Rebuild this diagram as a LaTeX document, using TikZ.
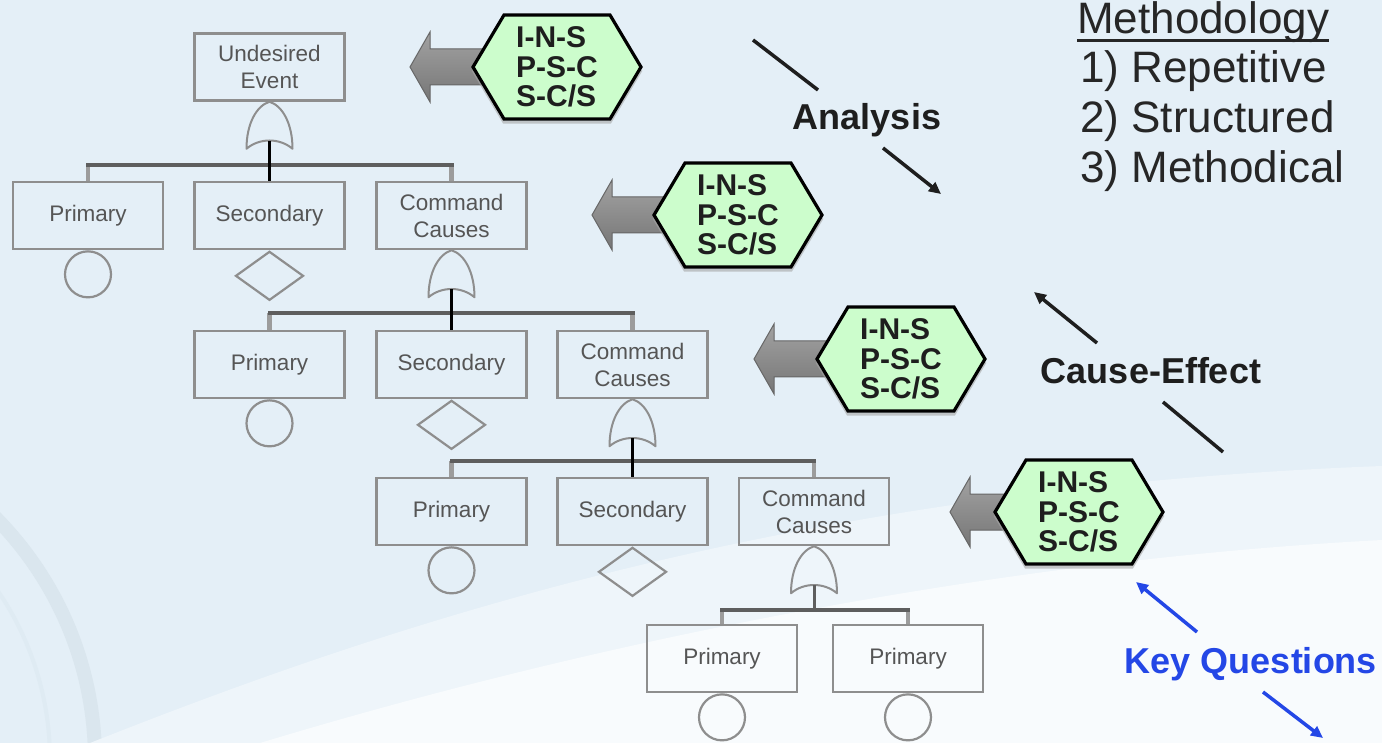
\documentclass[tikz,border=0pt]{standalone}
\usepackage{fontspec}
\setmainfont{Liberation Sans}
\usetikzlibrary{arrows.meta,calc,shapes.geometric}

\definecolor{bgblue}{HTML}{E4EFF7}
\definecolor{bandA}{HTML}{EEF5FA}
\definecolor{bandB}{HTML}{F8FBFD}
\definecolor{gearblue}{HTML}{DAE6EE}
\definecolor{boxgray}{HTML}{8E8E8E}
\definecolor{labelgray}{HTML}{555555}
\definecolor{busgray}{HTML}{5E5E5E}
\definecolor{dropgray}{HTML}{9C9C9C}
\definecolor{hexgreen}{HTML}{CCFDCC}
\definecolor{arrowtop}{HTML}{A2A2A2}
\definecolor{arrowbot}{HTML}{767676}
\definecolor{arrowedge}{HTML}{666666}
\definecolor{keyblue}{HTML}{2447E6}
\definecolor{inktext}{HTML}{1E1E1E}
\definecolor{methink}{HTML}{262626}

% fault-tree OR gate hanging from the given point
\newcommand\orgate[1]{%
  \draw[gateline, shift={(#1)}] (-23,47) .. controls (-23,22) and (-13,4) .. (0,0)
    .. controls (13,4) and (23,22) .. (23,47)
    .. controls (10,36) and (-10,36) .. cycle;}

\begin{document}
\begin{tikzpicture}[x=1pt,y=-1pt,
  evbox/.style={draw=boxgray, line width=2.5pt, minimum width=150pt, minimum height=67pt,
    inner sep=0pt, align=center, text=labelgray, font=\fontsize{22.5}{27}\selectfont},
  gateline/.style={draw=boxgray, line width=2pt, line join=round},
  basic/.style={circle, draw=boxgray, line width=2.2pt, minimum size=46pt, inner sep=0pt, anchor=north},
  undev/.style={diamond, draw=boxgray, line width=2.2pt, minimum width=68pt, minimum height=49pt,
    inner sep=0pt, anchor=north},
  bus/.style={draw=busgray, line width=4pt, line cap=rect},
  drop/.style={draw=dropgray, line width=4.5pt},
  stem/.style={draw=black, line width=3pt},
  hexshape/.style={draw=black, line width=3.2pt, fill=hexgreen, line join=miter},
  hexshadow/.style={draw=black!35, line width=3.2pt, opacity=0.6},
  hextext/.style={align=left, inner sep=0pt, text=inktext, font=\bfseries\fontsize{30}{29.5}\selectfont},
  blockarrow/.style={draw=arrowedge, line width=1pt, top color=arrowtop, bottom color=arrowbot},
  tag/.style={inner sep=0pt, anchor=base, font=\bfseries\fontsize{36}{40}\selectfont},
  methline/.style={inner sep=0pt, anchor=base west, text=methink, font=\fontsize{44}{50}\selectfont},
  conn/.style={line width=3.5pt, draw=inktext},
  tipped/.style={-{Triangle[length=12pt,width=11pt]}}
]
\useasboundingbox (0,0) rectangle (1382,743);

% ---------- background: pale blue field, faint gear, white sweep ----------
\begin{scope}
  \clip (0,0) rectangle (1382,743);
  \fill[bgblue] (0,0) rectangle (1382,743);
  \begin{scope}[shift={(-250,760)}]
    \draw[gearblue, line width=14pt] (0,0) circle (345);
    \draw[gearblue!50!bgblue, line width=4pt] (0,0) circle (300);
    \foreach \a in {4,20,...,84}{
      \fill[gearblue!70!bgblue] (\a-3.2:352) -- (\a-2.4:390) -- (\a+2.4:390) -- (\a+3.2:352) -- cycle;
    }
  \end{scope}
  \fill[bandA] (90,743) .. controls (400,620) and (800,488) .. (1382,466) -- (1382,743) -- cycle;
  \fill[bandB] (260,743) .. controls (600,640) and (1000,560) .. (1382,540) -- (1382,743) -- cycle;
\end{scope}

% ---------- event boxes ----------
\node[evbox] (top) at (269.5,67) {Undesired\\Event};

\node[evbox] (p1) at (88,215.5)    {Primary};
\node[evbox] (s1) at (269.5,215.5) {Secondary};
\node[evbox] (c1) at (451.5,215.5) {Command\\Causes};

\node[evbox] (p2) at (269.5,364.5) {Primary};
\node[evbox] (s2) at (451.5,364.5) {Secondary};
\node[evbox] (c2) at (632.5,364.5) {Command\\Causes};

\node[evbox] (p3) at (451.5,511.5) {Primary};
\node[evbox] (s3) at (632.5,511.5) {Secondary};
\node[evbox] (c3) at (814,511.5)   {Command\\Causes};

\node[evbox] (p4) at (722,658.5) {Primary};
\node[evbox] (q4) at (908,658.5) {Primary};

% ---------- basic (circle) and undeveloped (diamond) event symbols ----------
\node[basic] (bp1) at (p1.south) {};
\node[undev] (ds1) at (s1.south) {};
\node[basic] (bp2) at (p2.south) {};
\node[undev] (ds2) at (s2.south) {};
\node[basic] (bp3) at (p3.south) {};
\node[undev] (ds3) at (s3.south) {};
\node[basic] (bp4) at (p4.south) {};
\node[basic] (bq4) at (q4.south) {};

% ---------- OR gates ----------
\orgate{top.south}
\orgate{c1.south}
\orgate{c2.south}
\orgate{c3.south}
\coordinate (g0) at ($(top.south)+(0,39)$);
\coordinate (g1) at ($(c1.south)+(0,39)$);
\coordinate (g2) at ($(c2.south)+(0,39)$);
\coordinate (g3) at ($(c3.south)+(0,39)$);

% ---------- branch buses ----------
\coordinate (b1l) at ($(p1.north)+(0,-16)$);
\coordinate (b1r) at ($(c1.north)+(0,-16)$);
\draw[drop] (b1l) -- (p1.north);
\draw[drop] (b1r) -- (c1.north);
\draw[bus] (b1l) -- (b1r);
\draw[stem] (g0) -- (s1.north);

\coordinate (b2l) at ($(p2.north)+(0,-17)$);
\coordinate (b2r) at ($(c2.north)+(0,-17)$);
\draw[drop] (b2l) -- (p2.north);
\draw[drop] (b2r) -- (c2.north);
\draw[bus] (b2l) -- (b2r);
\draw[stem] (g1) -- (s2.north);

\coordinate (b3l) at ($(p3.north)+(0,-16)$);
\coordinate (b3r) at ($(c3.north)+(0,-16)$);
\draw[drop] (b3l) -- (p3.north);
\draw[drop] (b3r) -- (c3.north);
\draw[bus] (b3l) -- (b3r);
\draw[stem] (g2) -- (s3.north);

\coordinate (b4l) at ($(p4.north)+(0,-14)$);
\coordinate (b4r) at ($(q4.north)+(0,-14)$);
\coordinate (b4m) at (g3 |- b4l);
\draw[drop] (b4l) -- (p4.north);
\draw[drop] (b4r) -- (q4.north);
\draw[bus] (b4l) -- (b4r);
\draw[stem, draw=busgray] (g3) -- (b4m);

% ---------- key-question hexagons with block arrows ----------
\foreach \n/\cx/\cy/\tip in {1/557/67/410, 2/738/215/592, 3/901/359/754, 4/1079/512/950}{
  \begin{scope}[shift={(\cx,\cy)}]
    \pgfmathsetmacro\tx{\tip-\cx}
    \pgfmathsetmacro\hx{\tip-\cx+20}
    \draw[blockarrow] (\tx,0) -- (\hx,-35) -- (\hx,-18) -- (-70,-18) -- (-70,18)
      -- (\hx,18) -- (\hx,35) -- cycle;
    \draw[hexshadow] (-84,3) -- (-53,55) -- (53,55) -- (84,3);
    \draw[hexshape] (-84,0) -- (-53,-52) -- (53,-52) -- (84,0) -- (53,52) -- (-53,52) -- cycle;
    \node[hextext] (h\n) at (0,0) {I-N-S\\P-S-C\\S-C/S};
  \end{scope}
}

% ---------- side labels ----------
\node[tag, text=inktext] (ana) at (867,130) {Analysis};
\node[tag, text=inktext] (ce)  at (1151,384) {Cause-Effect};
\node[tag, text=keyblue] (kq)  at (1251,673) {Key Questions};

\coordinate (a1s) at (753,40);   \coordinate (a1e) at (818,90);
\coordinate (a2s) at (883,148);  \coordinate (a2e) at (941,194);
\coordinate (c1s) at (1097,343); \coordinate (c1e) at (1034,292);
\coordinate (c2s) at (1163,402); \coordinate (c2e) at (1223,452);
\coordinate (k1s) at (1197,632); \coordinate (k1e) at (1136,582);
\coordinate (k2s) at (1263,692); \coordinate (k2e) at (1323,738);

\draw[conn] (a1s) -- (a1e);
\draw[conn, tipped] (a2s) -- (a2e);
\draw[conn, tipped] (c1s) -- (c1e);
\draw[conn] (c2s) -- (c2e);
\draw[conn, tipped, draw=keyblue, fill=keyblue] (k1s) -- (k1e);
\draw[conn, tipped, draw=keyblue, fill=keyblue] (k2s) -- (k2e);

% ---------- methodology list ----------
\node[methline] (meth) at (1077,34) {Methodology};
\draw[methink, line width=3pt] ($(meth.base west)+(0,7)$) -- ($(meth.base east)+(0,7)$);
\node[methline] (m1) at (1080,83)  {1) Repetitive};
\node[methline] (m2) at (1080,133) {2) Structured};
\node[methline] (m3) at (1080,183) {3) Methodical};

\end{tikzpicture}
\end{document}
